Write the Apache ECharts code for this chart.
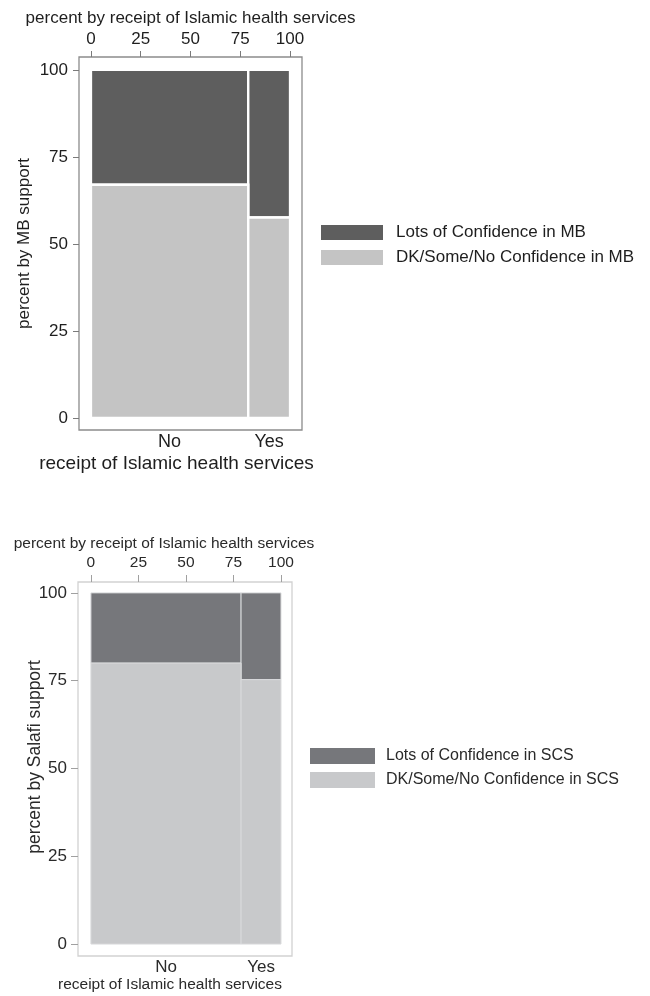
<!DOCTYPE html>
<html>
<head>
<meta charset="utf-8">
<script src="https://cdn.jsdelivr.net/npm/echarts@6/dist/echarts.min.js"></script>
<style>
  html, body { margin: 0; padding: 0; background: #ffffff; }
  #chart { width: 650px; height: 996px; }
</style>
</head>
<body>
<div id="chart"></div>
<script>
// Receipt of Islamic health services: groups and their share of respondents (%)
const groups = ['No', 'Yes'];
const groupShare = [79, 21];

// Confidence in the Muslim Brotherhood within each group (% of group)
const mbLow = [67, 57.6];     // DK/Some/No confidence
const mbHigh = [33, 42.4];    // Lots of confidence

// Confidence in Salafi charities within each group (% of group)
const scsLow = [80, 75.3];
const scsHigh = [20, 24.7];

const pctTicks = [0, 25, 50, 75, 100];

const FONT = 'Liberation Sans, Arial, Helvetica, sans-serif';

// Cumulative group boundaries along the horizontal axis
const groupStart = [];
const groupMid = [];
let acc = 0;
groupShare.forEach(function (s) {
  groupStart.push(acc);
  groupMid.push(acc + s / 2);
  acc += s;
});

// One row per mosaic tile: [x0, x1, y0, y1]
function lowerTiles(low) {
  return groups.map(function (g, i) {
    return [groupStart[i], groupStart[i] + groupShare[i], 0, low[i]];
  });
}
function upperTiles(low, high) {
  return groups.map(function (g, i) {
    return [groupStart[i], groupStart[i] + groupShare[i], low[i], low[i] + high[i]];
  });
}

function tileRenderer(stroke, lineWidth) {
  return function (params, api) {
    const a = api.coord([api.value(0), api.value(3)]);
    const b = api.coord([api.value(1), api.value(2)]);
    return {
      type: 'rect',
      shape: { x: a[0], y: a[1], width: b[0] - a[0], height: b[1] - a[1] },
      style: { fill: api.visual('color'), stroke: stroke, lineWidth: lineWidth }
    };
  };
}

function panel(idx, cfg) {
  const grid = {
    left: cfg.box[0], top: cfg.box[1], width: cfg.box[2], height: cfg.box[3],
    show: true, borderColor: cfg.frame, borderWidth: 1.3, backgroundColor: 'transparent'
  };
  const text = { color: cfg.textColor, fontFamily: FONT, fontSize: cfg.fs };
  const xTop = {
    type: 'value', gridIndex: idx, position: 'top',
    min: cfg.xr[0], max: cfg.xr[1],
    name: 'percent by receipt of Islamic health services',
    nameLocation: 'middle', nameGap: cfg.topNameGap,
    nameTextStyle: Object.assign({}, text, { fontSize: cfg.titleFs, padding: [0, cfg.titlePadRight, 0, 0] }),
    axisLine: { show: false, onZero: false },
    splitLine: { show: false },
    axisTick: { show: true, customValues: pctTicks, length: cfg.tickLen, lineStyle: { color: cfg.tickColor } },
    axisLabel: Object.assign({}, text, { customValues: pctTicks, margin: cfg.topLabelMargin, fontSize: cfg.topTickFs })
  };
  const xBottom = {
    type: 'value', gridIndex: idx, position: 'bottom',
    min: cfg.xr[0], max: cfg.xr[1],
    name: 'receipt of Islamic health services',
    nameLocation: 'middle', nameGap: cfg.bottomNameGap,
    nameTextStyle: Object.assign({}, text, { fontSize: cfg.xNameFs, padding: [0, cfg.namePadRight, 0, 0] }),
    axisLine: { show: false, onZero: false },
    splitLine: { show: false },
    axisTick: { show: false },
    axisLabel: Object.assign({}, text, {
      customValues: groupMid, margin: cfg.bottomLabelMargin, fontSize: cfg.catFs,
      formatter: function (v) {
        let best = 0;
        groupMid.forEach(function (m, i) { if (Math.abs(m - v) < Math.abs(groupMid[best] - v)) best = i; });
        return groups[best];
      }
    })
  };
  const y = {
    type: 'value', gridIndex: idx, position: 'left',
    min: cfg.yr[0], max: cfg.yr[1],
    name: cfg.yName, nameLocation: 'middle', nameGap: cfg.yNameGap, nameRotate: 90,
    nameMoveOverlap: cfg.yNameMove,
    nameTextStyle: Object.assign({}, text, { fontSize: cfg.yNameFs, padding: [0, 0, 0, cfg.yNamePadLeft] }),
    axisLine: { show: false, onZero: false },
    splitLine: { show: false },
    axisTick: { show: true, customValues: pctTicks, length: cfg.tickLen, lineStyle: { color: cfg.tickColor } },
    axisLabel: Object.assign({}, text, { customValues: pctTicks, margin: cfg.yLabelMargin })
  };
  const series = [
    {
      type: 'custom', name: cfg.names[0], xAxisIndex: idx * 2, yAxisIndex: idx,
      itemStyle: { color: cfg.colors[0] },
      renderItem: tileRenderer(cfg.stroke, cfg.strokeWidth),
      encode: { x: [0, 1], y: [2, 3] },
      data: upperTiles(cfg.low, cfg.high)
    },
    {
      type: 'custom', name: cfg.names[1], xAxisIndex: idx * 2, yAxisIndex: idx,
      itemStyle: { color: cfg.colors[1] },
      renderItem: tileRenderer(cfg.stroke, cfg.strokeWidth),
      encode: { x: [0, 1], y: [2, 3] },
      data: lowerTiles(cfg.low)
    }
  ];
  const legend = {
    orient: 'vertical', left: cfg.legendPos[0], top: cfg.legendPos[1], padding: 0,
    itemWidth: cfg.legendItem[0], itemHeight: cfg.legendItem[1], itemGap: cfg.legendGap,
    icon: 'rect', selectedMode: false,
    data: cfg.names,
    textStyle: Object.assign({}, text, { fontSize: cfg.legendFs, padding: [0, 0, 0, cfg.legendTextPad] })
  };
  return { grid: grid, xAxis: [xTop, xBottom], yAxis: y, series: series, legend: legend };
}

const mb = panel(0, {
  box: [79, 57, 223, 373],
  xr: [-6.0, 106.0], yr: [-3.45, 103.7],
  frame: '#8c8c8c', textColor: '#1e1e1e', tickColor: '#7a7a7a', tickLen: 6,
  fs: 17, titleFs: 17, topTickFs: 17, catFs: 18, xNameFs: 19, yNameFs: 17,
  topNameGap: 30, topLabelMargin: 9, titlePadRight: 0,
  bottomLabelMargin: 3, bottomNameGap: 24, namePadRight: 28,
  yName: 'percent by MB support', yNameGap: 46, yLabelMargin: 11, yNamePadLeft: 0, yNameMove: true,
  names: ['Lots of Confidence in MB', 'DK/Some/No Confidence in MB'],
  colors: ['#5e5e5e', '#c4c4c4'],
  stroke: '#ffffff', strokeWidth: 2.4,
  low: mbLow, high: mbHigh,
  legendPos: [321, 224], legendItem: [62, 15], legendGap: 8, legendFs: 17, legendTextPad: 8
});

const scs = panel(1, {
  box: [78, 582, 214, 374],
  xr: [-6.8, 105.8], yr: [-3.4, 103.1],
  frame: '#d2d2d2', textColor: '#2a2a2a', tickColor: '#a0a0a0', tickLen: 7,
  fs: 17, titleFs: 15.5, topTickFs: 15.5, catFs: 17, xNameFs: 15.5, yNameFs: 17.5,
  topNameGap: 30, topLabelMargin: 11, titlePadRight: 42,
  bottomLabelMargin: 3, bottomNameGap: 20, namePadRight: 30,
  yName: 'percent by Salafi support', yNameGap: 34, yLabelMargin: 11, yNamePadLeft: 24, yNameMove: false,
  names: ['Lots of Confidence in SCS', 'DK/Some/No Confidence in SCS'],
  colors: ['#76777b', '#c8c9cb'],
  stroke: '#d9dadc', strokeWidth: 1,
  low: scsLow, high: scsHigh,
  legendPos: [310, 748], legendItem: [65, 16], legendGap: 8, legendFs: 16, legendTextPad: 6
});

const chart = echarts.init(document.getElementById('chart'), null, { renderer: 'canvas' });
chart.setOption({
  animation: false,
  backgroundColor: '#ffffff',
  grid: [mb.grid, scs.grid],
  xAxis: mb.xAxis.concat(scs.xAxis),
  yAxis: [mb.yAxis, scs.yAxis],
  legend: [mb.legend, scs.legend],
  series: mb.series.concat(scs.series)
});
</script>
</body>
</html>
